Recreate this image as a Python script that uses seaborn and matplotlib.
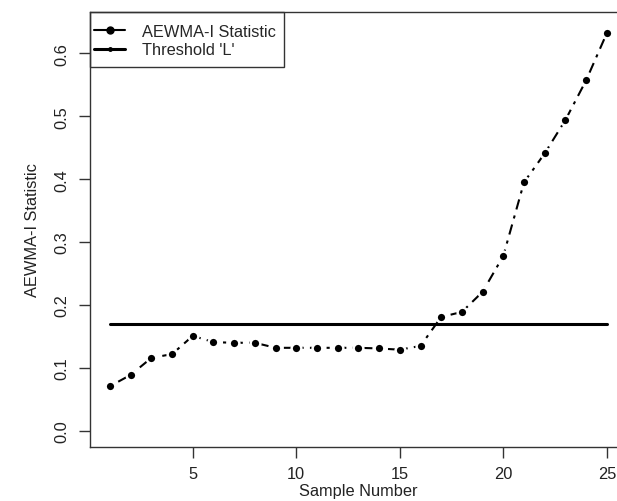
import numpy as np
import pandas as pd
import seaborn as sns
import matplotlib.pyplot as plt
from matplotlib.lines import Line2D
from matplotlib.patches import Rectangle

sns.set_style("ticks")
plt.rcParams['font.family'] = ['Liberation Sans', 'DejaVu Sans']

# values
samples = list(range(1, 26))
aewma_stat = [0.071, 0.089, 0.116, 0.122, 0.151, 0.141, 0.140, 0.140, 0.132, 0.132,
              0.132, 0.132, 0.132, 0.131, 0.129, 0.135, 0.181, 0.189, 0.221, 0.278,
              0.395, 0.441, 0.494, 0.557, 0.632]
threshold_L = 0.17

df = pd.DataFrame({'Sample Number': samples, 'AEWMA-I Statistic': aewma_stat})
df['Threshold'] = threshold_L

fs = 11.8
fig = plt.figure(figsize=(6.17, 5.02), dpi=100)
# axes box goes past the right edge like the cropped reference
ax = fig.add_axes([90.1 / 617, 1 - 448 / 502, 536.6 / 617, 435 / 502])

sns.lineplot(data=df, x='Sample Number', y='AEWMA-I Statistic', ax=ax,
             color='black', lw=1.5, linestyle=(0, (1.5, 3, 5, 3)),
             marker='o', markersize=7, markerfacecolor='black',
             markeredgecolor='white', markeredgewidth=1.8, zorder=2)
sns.lineplot(data=df, x='Sample Number', y='Threshold', ax=ax,
             color='black', lw=2.2, zorder=3)

ax.set_xlim(0.04, 25.96)
ax.set_ylim(-0.0256, 0.6656)
ax.set_xticks([5, 10, 15, 20, 25])
ax.set_yticks([0.0, 0.1, 0.2, 0.3, 0.4, 0.5, 0.6])
ax.set_yticklabels(['0.0', '0.1', '0.2', '0.3', '0.4', '0.5', '0.6'],
                   rotation=90, va='center')
ax.tick_params(axis='both', labelsize=fs, length=8, width=1, colors='#333333',
               labelcolor='#222222')
ax.tick_params(axis='x', pad=6)
ax.tick_params(axis='y', pad=7)
for s in ax.spines.values():
    s.set_color('#333333')
    s.set_linewidth(1)
ax.set_xlabel('Sample Number', fontsize=fs, color='#222222', labelpad=1)
ax.set_ylabel('AEWMA-I Statistic', fontsize=fs, color='#222222', labelpad=10)

# R-style legend: box drawn separately, entries placed inside it
handles = [Line2D([], [], color='black', lw=1.5, marker='o', markersize=5),
           Line2D([], [], color='black', lw=2.2, marker='o', markersize=2.5)]
leg = ax.legend(handles, ['AEWMA-I Statistic', "Threshold 'L'"], loc='upper left',
                bbox_to_anchor=(4 / 536.6, 1 - 12 / 435), borderaxespad=0,
                frameon=False, fontsize=fs, handlelength=1.9, handletextpad=1.0,
                labelspacing=0.2, borderpad=0)
ax.add_patch(Rectangle((0, 1 - 55 / 435), 194 / 536.6, 55 / 435, transform=ax.transAxes,
                       fill=False, edgecolor='#333333', lw=1, zorder=5, clip_on=False))

fig.savefig('out.png', dpi=100)
